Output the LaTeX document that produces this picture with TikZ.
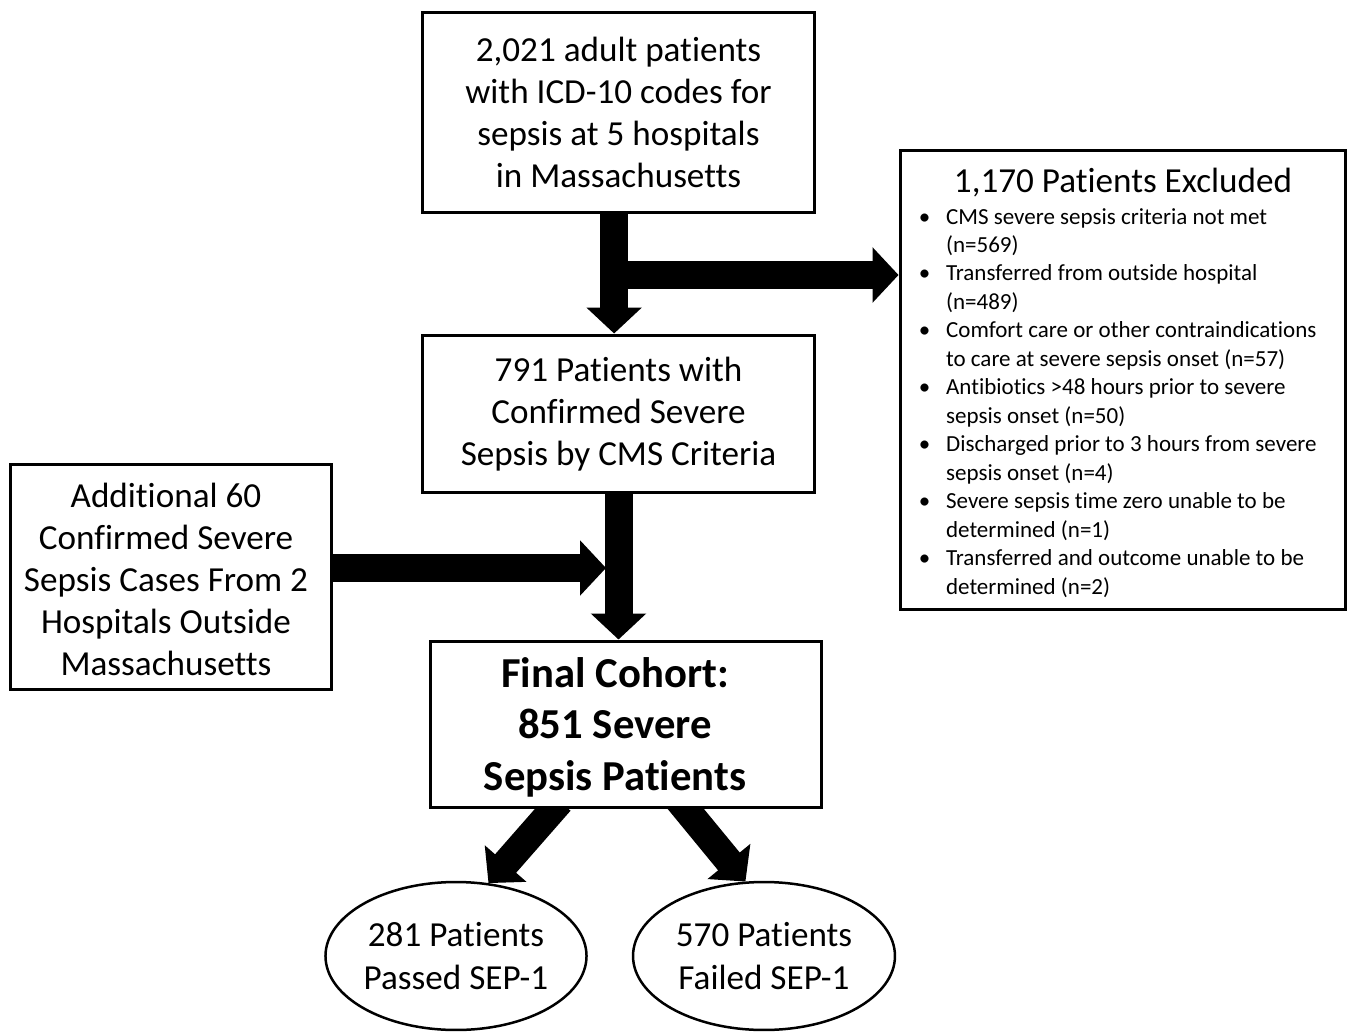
\documentclass[tikz,border=0pt]{standalone}
\usepackage{fontspec}
\setmainfont{Carlito}[Ligatures=NoCommon]
\usetikzlibrary{arrows.meta,shapes.geometric,calc,backgrounds}

\begin{document}
\begin{tikzpicture}[x=0.02cm,y=-0.02cm,
        box/.style={draw,line width=0.06cm,fill=white,align=center,inner sep=0pt,font=\fontsize{20}{24}\selectfont},
        oval/.style={ellipse,draw,line width=0.05cm,fill=white,align=center,inner sep=0pt,font=\fontsize{20}{24}\selectfont},
        fat/.style={line width=0.56cm,-{Triangle[width=1.08cm,length=0.52cm]}}]
        \useasboundingbox (0,0) rectangle (1352,1034);

        \node[box,minimum width=7.86cm,minimum height=4.02cm](top) at (618.5,112.5){2,021 adult patients\\with ICD-10 codes for\\sepsis at 5 hospitals\\in Massachusetts};
        \node[box,minimum width=7.86cm,minimum height=3.16cm](mid) at (618.5,414){791 Patients with\\Confirmed Severe\\Sepsis by CMS Criteria};
        \node[box,minimum width=8.92cm,minimum height=9.2cm](excl) at (1123,380){\rule{0pt}{20pt}1,170 Patients Excluded\\[3pt]
            {\fontsize{13.1}{16.2}\selectfont\begin{tabular}{@{}l@{\hspace{9pt}}l@{\hspace{6pt}}}
            \textbullet & CMS severe sepsis criteria not met\\ & (n=569)\\
            \textbullet & Transferred from outside hospital\\ & (n=489)\\
            \textbullet & Comfort care or other contraindications\\ & to care at severe sepsis onset (n=57)\\
            \textbullet & Antibiotics >48 hours prior to severe\\ & sepsis onset (n=50)\\
            \textbullet & Discharged prior to 3 hours from severe\\ & sepsis onset (n=4)\\
            \textbullet & Severe sepsis time zero unable to be\\ & determined (n=1)\\
            \textbullet & Transferred and outcome unable to be\\ & determined (n=2)
            \end{tabular}}};
        \node[box,minimum width=6.44cm,minimum height=4.52cm](add) at (171,577){\raisebox{-3.4pt}[\height][\depth]{\begin{tabular}{@{}c@{\hspace{5.7pt}}}Additional 60\\Confirmed Severe\\Sepsis Cases From 2\\Hospitals Outside\\Massachusetts\end{tabular}}};
        \node[box,minimum width=7.84cm,minimum height=3.34cm,font=\fontsize{24.3}{29.5}\selectfont\bfseries](final) at (626,724.5){\raisebox{-2.3pt}[\height][\depth]{\begin{tabular}{@{}c@{\hspace{12.5pt}}}Final Cohort:\\851 Severe\\Sepsis Patients\end{tabular}}};
        \node[oval,minimum width=5.04cm,minimum height=2.96cm](pass) at (456,956){281 Patients\\Passed SEP-1};
        \node[oval,minimum width=5.24cm,minimum height=2.96cm](fail) at (764,956){570 Patients\\Failed SEP-1};

        \coordinate(split) at (614,275);
        \coordinate(merge) at (606,568);
        \begin{scope}[on background layer]
        \draw[fat]([xshift=-2.5pt]top.south)--([xshift=-2.5pt]mid.north);
        \draw[fat](split)--(split -| excl.west);
        \draw[fat](mid.south)--(mid.south |- final.north);
        \draw[fat](add.east |- merge)--(merge);
        \draw[fat]($(final.south)+(-66,-8)$)--(pass.66);
        \draw[fat]($(final.south)+(52,-10)$)--(fail.104);
        \end{scope}
    \end{tikzpicture}
\end{document}
